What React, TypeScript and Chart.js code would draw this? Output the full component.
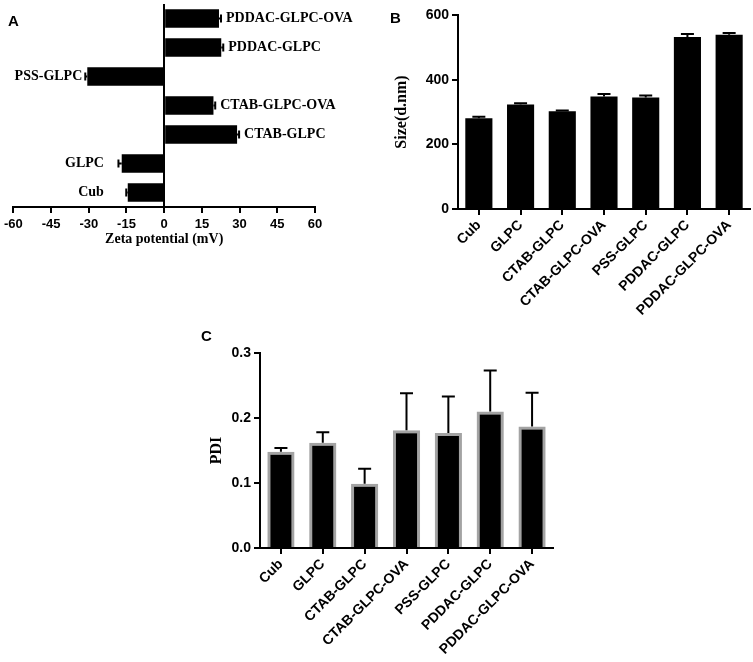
import React, { useEffect, useRef } from 'react';
import { Chart, registerables } from 'chart.js';

Chart.register(...registerables);

const categories = ['Cub', 'GLPC', 'CTAB-GLPC', 'CTAB-GLPC-OVA', 'PSS-GLPC', 'PDDAC-GLPC', 'PDDAC-GLPC-OVA'];
const zetaValues = [-14.5, -16.9, 29.0, 19.6, -30.6, 22.7, 21.8];
const zetaErrors = [0.6, 1.3, 0.8, 0.7, 0.8, 0.8, 0.8];
const sizeValues = [281, 323, 302, 348, 345, 532, 539];
const sizeErrors = [4, 4, 3, 8, 6, 9, 5];
const pdiValues = [0.148, 0.162, 0.099, 0.181, 0.177, 0.21, 0.187];
const pdiErrors = [0.006, 0.016, 0.023, 0.057, 0.056, 0.063, 0.052];

const SANS = '"Liberation Sans", Arial, sans-serif';
const SERIF = '"Liberation Serif", "Times New Roman", serif';

function errorBarPlugin(errors: number[], horizontal: boolean, capHalf: number) {
  return {
    id: 'errbars',
    afterDatasetsDraw(chart: any) {
      const meta = chart.getDatasetMeta(0);
      const data = chart.data.datasets[0].data as number[];
      const ctx = chart.ctx;
      ctx.save();
      ctx.strokeStyle = '#000';
      ctx.lineWidth = 2;
      meta.data.forEach((el: any, i: number) => {
        const v = data[i];
        const e = errors[i];
        const sign = v < 0 ? -1 : 1;
        ctx.beginPath();
        if (horizontal) {
          const xs = chart.scales.x;
          const x0 = xs.getPixelForValue(v);
          const x1 = xs.getPixelForValue(v + sign * e);
          ctx.moveTo(x0, el.y);
          ctx.lineTo(x1, el.y);
          ctx.moveTo(x1, el.y - capHalf);
          ctx.lineTo(x1, el.y + capHalf);
        } else {
          const ys = chart.scales.y;
          const y0 = ys.getPixelForValue(v);
          const y1 = ys.getPixelForValue(v + sign * e);
          ctx.moveTo(el.x, y0);
          ctx.lineTo(el.x, y1);
          ctx.moveTo(el.x - capHalf, y1);
          ctx.lineTo(el.x + capHalf, y1);
        }
        ctx.stroke();
      });
      ctx.restore();
    },
  };
}

const zetaLabelPlugin = {
  id: 'zetaLabels',
  afterDatasetsDraw(chart: any) {
    const meta = chart.getDatasetMeta(0);
    const ctx = chart.ctx;
    const xs = chart.scales.x;
    ctx.save();
    ctx.font = `bold 14px ${SERIF}`;
    ctx.fillStyle = '#000';
    ctx.textBaseline = 'middle';
    meta.data.forEach((el: any, i: number) => {
      const v = zetaValues[i];
      const sign = v < 0 ? -1 : 1;
      const xe = xs.getPixelForValue(v + sign * zetaErrors[i]);
      if (sign > 0) {
        ctx.textAlign = 'left';
        ctx.fillText(categories[i], xe + 5, el.y);
      } else {
        ctx.textAlign = 'right';
        ctx.fillText(categories[i], Math.min(xe - 3, xs.getPixelForValue(-24)), el.y);
      }
    });
    ctx.restore();
  },
};

function fixHeight(h: number) {
  return (scale: any) => {
    scale.height = h;
  };
}
function fixWidth(w: number) {
  return (scale: any) => {
    scale.width = w;
  };
}

function ChartBox(props: { left: number; top: number; width: number; height: number; make: () => any }) {
  const ref = useRef<HTMLCanvasElement | null>(null);
  useEffect(() => {
    if (!ref.current) return;
    const chart = new Chart(ref.current, props.make());
    return () => chart.destroy();
  }, []);
  return (
    <canvas
      ref={ref}
      width={props.width}
      height={props.height}
      style={{ position: 'absolute', left: props.left, top: props.top, width: props.width, height: props.height }}
    />
  );
}

const axisTickFont = (size: number) => ({ family: SANS, size, weight: 'bold' as const });

function makeZeta() {
  return {
    type: 'bar',
    data: {
      labels: categories,
      datasets: [
        {
          data: zetaValues,
          backgroundColor: '#000',
          borderWidth: 0,
          barPercentage: 0.64,
          categoryPercentage: 1,
        },
      ],
    },
    options: {
      indexAxis: 'y',
      responsive: false,
      animation: false,
      devicePixelRatio: 1,
      layout: { padding: { left: 12, right: 55, top: 4, bottom: 0 } },
      plugins: { legend: { display: false }, tooltip: { enabled: false } },
      scales: {
        y: { type: 'category', display: false, reverse: true },
        x: {
          type: 'linear',
          min: -60,
          max: 60,
          afterFit: fixHeight(53),
          border: { display: true, color: '#000', width: 2 },
          grid: {
            drawOnChartArea: true,
            color: (c: any) => (c.tick && c.tick.value === 0 ? '#000' : 'rgba(0,0,0,0)'),
            tickColor: '#000',
            lineWidth: 2,
            tickLength: 6,
          },
          ticks: { stepSize: 15, color: '#000', font: axisTickFont(13), padding: 4, maxRotation: 0 },
          title: {
            display: true,
            text: 'Zeta potential (mV)',
            color: '#000',
            font: { family: SERIF, size: 14, weight: 'bold' },
            padding: { top: 0, bottom: 12 },
          },
        },
      },
    },
    plugins: [errorBarPlugin(zetaErrors, true, 4), zetaLabelPlugin],
  };
}

function makeVertical(values: number[], errors: number[], yMax: number, step: number, title: string, opts: any) {
  return {
    type: 'bar',
    data: {
      labels: categories,
      datasets: [
        {
          data: values,
          backgroundColor: '#000',
          borderColor: opts.borderColor || '#000',
          borderWidth: opts.borderWidth || 0,
          barPercentage: 0.65,
          categoryPercentage: 1,
        },
      ],
    },
    options: {
      responsive: false,
      animation: false,
      devicePixelRatio: 1,
      layout: { padding: opts.padding },
      plugins: { legend: { display: false }, tooltip: { enabled: false } },
      scales: {
        x: {
          type: 'category',
          afterFit: fixHeight(opts.xHeight),
          border: { display: true, color: '#000', width: 2 },
          grid: { offset: false, drawOnChartArea: false, tickColor: '#000', lineWidth: 2, tickLength: 6 },
          ticks: { color: '#000', font: axisTickFont(14), minRotation: 45, maxRotation: 45, autoSkip: false, padding: 2 },
        },
        y: {
          type: 'linear',
          min: 0,
          max: yMax,
          afterFit: fixWidth(opts.yWidth),
          border: { display: true, color: '#000', width: 2 },
          grid: { drawOnChartArea: false, tickColor: '#000', lineWidth: 2, tickLength: 6 },
          ticks: {
            stepSize: step,
            color: '#000',
            font: axisTickFont(14),
            padding: 3,
            callback: opts.tickFormat,
          },
          title: {
            display: true,
            text: title,
            color: '#000',
            font: { family: SERIF, size: 16, weight: 'bold' },
            padding: { top: 4, bottom: 0 },
          },
        },
      },
    },
    plugins: [errorBarPlugin(errors, false, 6.5)],
  };
}

const letterStyle = (left: number, top: number): React.CSSProperties => ({
  position: 'absolute',
  left,
  top,
  fontFamily: SANS,
  fontWeight: 'bold',
  fontSize: 15,
  lineHeight: '15px',
  color: '#000',
});

export default function App() {
  return (
    <div style={{ position: 'absolute', left: 0, top: 0, width: 753, height: 662, background: '#fff', overflow: 'hidden' }}>
      <ChartBox left={0} top={0} width={370} height={260} make={makeZeta} />
      <ChartBox
        left={340}
        top={0}
        width={413}
        height={330}
        make={() =>
          makeVertical(sizeValues, sizeErrors, 600, 200, 'Size(d.nm)', {
            padding: { left: 48, right: 3, top: 15, bottom: 0 },
            xHeight: 121,
            yWidth: 70,
          })
        }
      />
      <ChartBox
        left={190}
        top={310}
        width={370}
        height={352}
        make={() =>
          makeVertical(pdiValues, pdiErrors, 0.3, 0.1, 'PDI', {
            padding: { left: 13, right: 7, top: 43, bottom: 0 },
            xHeight: 114,
            yWidth: 57,
            borderColor: '#a3a3a3',
            borderWidth: 3,
            tickFormat: (v: any) => Number(v).toFixed(1),
          })
        }
      />
      <div style={letterStyle(8, 13)}>A</div>
      <div style={letterStyle(390, 10)}>B</div>
      <div style={letterStyle(201, 328)}>C</div>
    </div>
  );
}
